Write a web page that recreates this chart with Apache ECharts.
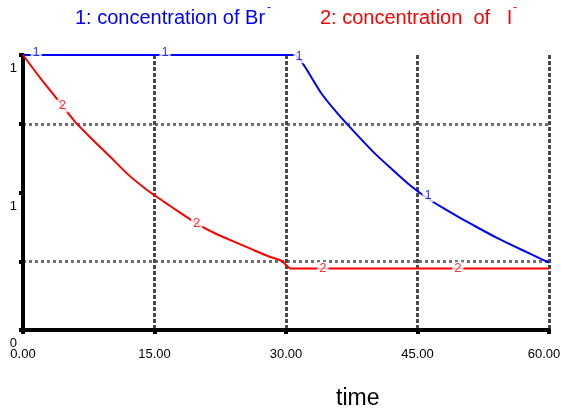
<!DOCTYPE html>
<html><head><meta charset="utf-8">
<script src="https://cdn.jsdelivr.net/npm/echarts@6/dist/echarts.min.js"></script>
<style>html,body{margin:0;padding:0;background:#fff}#c{width:561px;height:408px}</style>
</head><body><div id="c"></div>
<script>
const xTickLabels = {0:'0.00', 15:'15.00', 30:'30.00', 45:'45.00', 60:'60.00'};
const yTickLabels = {0:'0', 0.5:'1', 1:'1'};
const brTime  = [0, 30, 31, 32, 34, 36, 38, 40, 42, 44, 46, 48, 50, 52, 54, 56, 58, 60];
const brValue = [1, 1, 1, 0.965, 0.862, 0.783, 0.713, 0.646, 0.587, 0.53, 0.482, 0.442, 0.405, 0.37, 0.336, 0.305, 0.275, 0.245];
const iTime  = [0, 2, 4, 6, 8, 10, 12, 14, 16, 18, 20, 22, 24, 26, 28, 29.6, 30, 30.5, 60];
const iValue = [1, 0.915, 0.835, 0.755, 0.69, 0.628, 0.565, 0.513, 0.468, 0.425, 0.383, 0.35, 0.322, 0.295, 0.268, 0.25, 0.236, 0.224, 0.224];
const brLabelTime = [1.5, 16.2, 31.5, 46.2];
const iLabelTime  = [4.5, 19.8, 34.2, 49.6];

function interp(ts, vs, t) {
  for (let i = 1; i < ts.length; i++) {
    if (t <= ts[i]) { const f = (t - ts[i-1]) / (ts[i] - ts[i-1]); return vs[i-1] + f * (vs[i] - vs[i-1]); }
  }
  return vs[vs.length - 1];
}
const FONT = 'Liberation Sans, Arial, sans-serif';
const chart = echarts.init(document.getElementById('c'));
chart.setOption({
  animation: false,
  backgroundColor: '#fff',
  grid: { left: 23, right: 12, top: 55, bottom: 78, outerBoundsMode: 'none' },
  xAxis: {
    type: 'value', min: 0, max: 60, interval: 15,
    axisLine: { show: true, lineStyle: { color: '#000', width: 4 } },
    axisTick: { show: true, length: 4, lineStyle: { color: '#000', width: 4 } },
    axisLabel: {
      formatter: v => (v === 60 ? '{r|' + xTickLabels[v] + '}' : (xTickLabels[v] || '')),
      rich: { r: { fontSize: 13, color: '#000', fontFamily: FONT, padding: [0, 10, 0, 0] } },
      fontSize: 13, color: '#000', fontFamily: FONT, margin: 18
    },
    splitLine: { show: true, lineStyle: { color: '#4a4a4a', type: [4, 2], width: 3 } }
  },
  yAxis: {
    type: 'value', min: 0, max: 1, interval: 0.25,
    axisLine: { show: true, lineStyle: { color: '#000', width: 4 } },
    axisTick: { show: true, length: 4, lineStyle: { color: '#000', width: 4 } },
    axisLabel: { formatter: v => (yTickLabels[v] !== undefined ? yTickLabels[v] : ''), fontSize: 13, color: '#000', fontFamily: FONT, margin: 6, verticalAlign: 'top', padding: [7, 0, 0, 0] },
    splitLine: { show: true, lineStyle: { color: ['rgba(0,0,0,0)', '#707070'], type: [3, 3], width: 3 } }
  },
  series: [
    { type: 'line', data: brTime.map((t, i) => [t, brValue[i]]), showSymbol: false, symbol: 'none',
      smooth: 0.2,
      lineStyle: { color: '#0000ff', width: 2 }, z: 3 },
    { type: 'line', data: iTime.map((t, i) => [t, iValue[i]]), showSymbol: false, symbol: 'none',
      smooth: 0.2,
      lineStyle: { color: '#ff0000', width: 2 }, z: 4 },
    { type: 'scatter', symbolSize: 0, z: 6, silent: true,
      data: brLabelTime.map(t => [t, interp(brTime, brValue, t)]),
      label: { show: true, position: 'inside', formatter: '1', color: '#0000ff', fontSize: 13, fontFamily: FONT,
        backgroundColor: '#fff', padding: [0, 2], offset: [0, -3] } },
    { type: 'scatter', symbolSize: 0, z: 6, silent: true,
      data: iLabelTime.map(t => [t, interp(iTime, iValue, t)]),
      label: { show: true, position: 'inside', formatter: '2', color: '#ff0000', fontSize: 13, fontFamily: FONT,
        backgroundColor: '#fff', padding: [0, 2] } }
  ],
  graphic: [
    { type: 'text', left: 75, top: 8, style: { text: '1: concentration of Br', fill: '#0000ff', font: '20px ' + FONT } },
    { type: 'text', left: 267, top: 2, style: { text: '-', fill: '#0000ff', font: '12px ' + FONT } },
    { type: 'text', left: 320, top: 8, style: { text: '2: concentration  of   I', fill: '#ff0000', font: '20px ' + FONT } },
    { type: 'text', left: 513, top: 2, style: { text: '-', fill: '#ff0000', font: '12px ' + FONT } },
    { type: 'text', left: 336, top: 387, style: { text: 'time', fill: '#000', font: '23px ' + FONT } }
  ]
});
</script></body></html>
